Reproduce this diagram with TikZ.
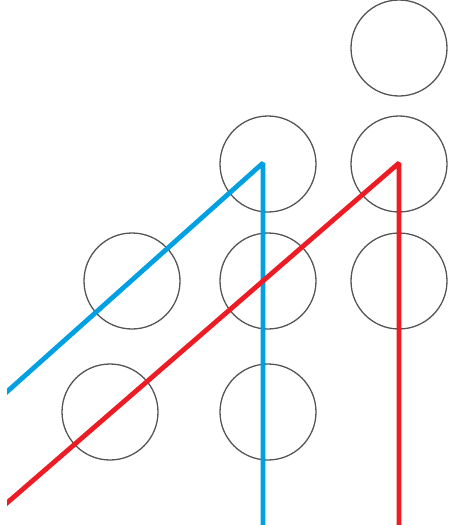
\documentclass[tikz,border=0pt]{standalone}
\usepackage{tikz}

\definecolor{ballgray}{RGB}{85,85,85}
\definecolor{pathblue}{RGB}{0,160,227}
\definecolor{pathred}{RGB}{237,28,36}

\begin{document}
\begin{tikzpicture}[x=1pt, y=-1pt,
        ball/.style={draw=ballgray, line width=1.3pt, circle, minimum size=96pt, inner sep=0pt},
        track/.style={line width=4.8pt, line join=bevel}]
    \useasboundingbox (0,0) rectangle (449,525);
    % circles, row by row
    \node[ball] (c1) at (399,48) {};
    \node[ball] (c2) at (268,164) {};
    \node[ball] (c3) at (399,164) {};
    \node[ball] (c4) at (132,281) {};
    \node[ball] (c5) at (268,281) {};
    \node[ball] (c6) at (399,281) {};
    \node[ball] (c7) at (110,412) {};
    \node[ball] (c8) at (268,412) {};
    % end points of the two tracks
    \coordinate (bluestart) at (0,398);
    \coordinate (bluetop) at (263,163);
    \coordinate (blueend) at (263,530);
    \coordinate (redstart) at (0,509);
    \coordinate (redtop) at (399,163);
    \coordinate (redend) at (399,530);
    \begin{scope}
        \clip (7,0) rectangle (449,525);
        \draw[track, pathblue] (bluestart) -- (bluetop) -- (blueend);
        \draw[track, pathred] (redstart) -- (redtop) -- (redend);
    \end{scope}
\end{tikzpicture}
\end{document}
